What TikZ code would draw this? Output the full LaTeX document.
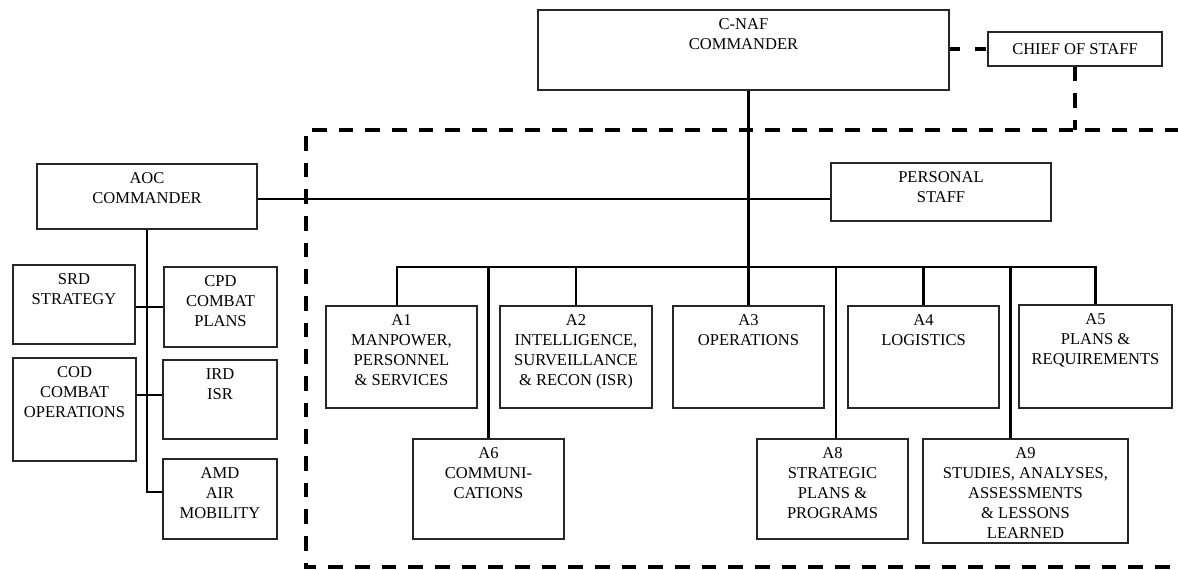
\documentclass[tikz,border=0pt]{standalone}
\usepackage{fontspec}
\setmainfont{Liberation Serif}
\usetikzlibrary{positioning,fit}

\tikzset{
  box/.style={draw=black!85, line width=1.1pt, inner sep=0pt},
  txt/.style={align=center, inner sep=0pt, font=\fontsize{12.4}{15}\selectfont},
  link/.style={line width=2.2pt},
  dashlink/.style={line width=2.6pt, dash pattern=on 11pt off 9pt},
}

\begin{document}
\begin{tikzpicture}[x=0.75pt, y=-0.75pt]
    \useasboundingbox (0,0) rectangle (1178,569);

    % top level
    \node[box, fit={(538,10) (949,90)}] (cnaf) {};
    \node[txt, below=7pt of cnaf.north] (cnaft) {C-NAF\\COMMANDER};
    \node[box, fit={(988,32) (1162,66)}] (cos) {};
    \node[txt] (cost) at (cos.center) {CHIEF OF STAFF};
    \node[box, fit={(831,163) (1051,221)}] (pstaff) {};
    \node[txt, below=6.5pt of pstaff.north] (pstafft) {PERSONAL\\STAFF};

    % AOC side
    \node[box, fit={(37,164) (257,229)}] (aoc) {};
    \node[txt, below=6.5pt of aoc.north] (aoct) {AOC\\COMMANDER};
    \node[box, fit={(13,265) (135,344)}] (srd) {};
    \node[txt, below=6.5pt of srd.north] (srdt) {SRD\\STRATEGY};
    \node[box, fit={(164,267) (277,347)}] (cpd) {};
    \node[txt, below=6.5pt of cpd.north] (cpdt) {CPD\\COMBAT\\PLANS};
    \node[box, fit={(13,358) (136,461)}] (cod) {};
    \node[txt, below=6.5pt of cod.north] (codt) {COD\\COMBAT\\OPERATIONS};
    \node[box, fit={(163,360) (277,439)}] (ird) {};
    \node[txt, below=6.5pt of ird.north] (irdt) {IRD\\ISR};
    \node[box, fit={(163,459) (277,539)}] (amd) {};
    \node[txt, below=6.5pt of amd.north] (amdt) {AMD\\AIR\\MOBILITY};

    % A-staff, first row
    \node[box, fit={(326,306) (477,408)}] (a1) {};
    \node[txt, below=6.5pt of a1.north] (a1t) {A1\\MANPOWER,\\PERSONNEL\\\& SERVICES};
    \node[box, fit={(500,306) (652,408)}] (a2) {};
    \node[txt, below=6.5pt of a2.north] (a2t) {A2\\INTELLIGENCE,\\SURVEILLANCE\\\& RECON (ISR)};
    \node[box, fit={(673,306) (824,408)}] (a3) {};
    \node[txt, below=6.5pt of a3.north] (a3t) {A3\\OPERATIONS};
    \node[box, fit={(848,306) (999,408)}] (a4) {};
    \node[txt, below=6.5pt of a4.north] (a4t) {A4\\LOGISTICS};
    \node[box, fit={(1019,305) (1172,408)}] (a5) {};
    \node[txt, below=6.5pt of a5.north] (a5t) {A5\\PLANS \&\\REQUIREMENTS};

    % A-staff, second row
    \node[box, fit={(413,439) (564,539)}] (a6) {};
    \node[txt, below=6.5pt of a6.north] (a6t) {A6\\COMMUNI-\\CATIONS};
    \node[box, fit={(757,439) (908,539)}] (a8) {};
    \node[txt, below=6.5pt of a8.north] (a8t) {A8\\STRATEGIC\\PLANS \&\\PROGRAMS};
    \node[box, fit={(923,439) (1128,543)}] (a9) {};
    \node[txt, below=6.5pt of a9.north] (a9t) {A9\\STUDIES, ANALYSES,\\ASSESSMENTS\\\& LESSONS\\LEARNED};

    \coordinate (bus) at (747,267);
    \coordinate (hlink) at (747,199);
    \coordinate (ftop) at (306,130);
    \coordinate (fbot) at (306,567);

    % solid lines
    \draw[link] (cnaf.south -| a3.north) -- (a3.north);
    \draw[link] (aoc.east |- hlink) -- (pstaff.west |- hlink);
    \draw[link] ([xshift=-3.4pt]a1.north) -- ([xshift=-3.4pt]a1.north |- bus) -- (a5.north |- bus) -- (a5.north);
    \draw[link] (a2.north) -- (a2.north |- bus);
    \draw[link] (a4.north) -- (a4.north |- bus);
    \draw[link] (a6.north) -- (a6.north |- bus);
    \draw[link] ([xshift=2.6pt]a8.north) -- ([xshift=2.6pt]a8.north |- bus);
    \draw[link] ([xshift=-11.6pt]a9.north) -- ([xshift=-11.6pt]a9.north |- bus);
    \draw[link] (aoc.south) |- ([yshift=5.25pt]amd.west);
    \draw[link] (srd.east |- cpd.west) -- (cpd.west);
    \draw[link] ([yshift=3.4pt]cod.east |- ird.west) -- ([yshift=3.4pt]ird.west);

    % dashed lines
    \draw[dashlink, dash pattern=on 8pt off 11pt] (cnaf.east |- cos.west) -- (cos.west);
    \draw[dashlink] (cos.south) -- (cos.south |- ftop);
    \draw[dashlink] (1180,130) -- (ftop) -- (fbot) -- (1180,567);
\end{tikzpicture}
\end{document}
